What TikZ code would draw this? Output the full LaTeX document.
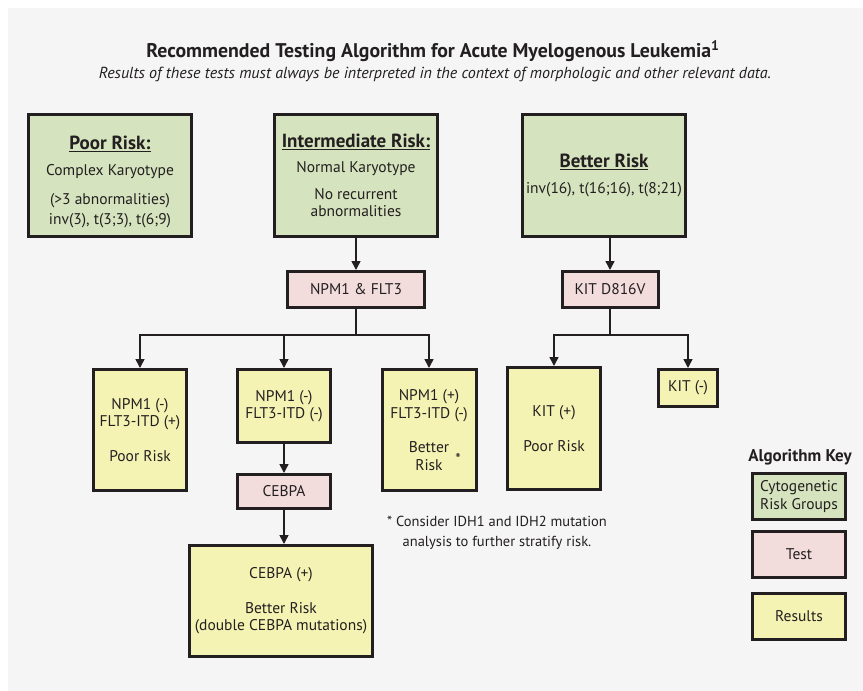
\documentclass[tikz,border=0pt]{standalone}
\usepackage{fontspec}
\setmainfont{PT Sans}
\usepackage{tikz}
\usetikzlibrary{arrows.meta}

\definecolor{bggray}{HTML}{F5F5F5}
\definecolor{riskgreen}{HTML}{D5E3BE}
\definecolor{testpink}{HTML}{F2DCDC}
\definecolor{resyellow}{HTML}{F5F3B3}
\definecolor{inkdark}{HTML}{231F20}

\newcommand{\riskhead}[1]{{\bfseries\fontsize{19}{20}\selectfont\underline{#1}}}

\tikzset{
	box/.style={draw=inkdark, line width=3pt, text=inkdark, align=center, inner sep=0pt,
		font=\fontsize{15.5}{17.5}\selectfont},
	riskbox/.style={box, fill=riskgreen},
	testbox/.style={box, fill=testpink},
	resbox/.style={box, fill=resyellow},
	arr/.style={draw=inkdark, line width=1.5pt, -{Triangle[width=9pt,length=9pt]}},
	link/.style={draw=inkdark, line width=1.5pt}
}

\begin{document}
\begin{tikzpicture}[x=1pt, y=-1pt]

\path (0,0) -- (863,691);
\fill[bggray] (8,8) rectangle (863,691);

\node[text=inkdark, font=\bfseries\fontsize{19.8}{22}\selectfont] (title) at (433,51)
	{Recommended Testing Algorithm for Acute Myelogenous Leukemia\textsuperscript{1}};
\node[text=inkdark, font=\itshape\fontsize{16}{18}\selectfont] (subtitle) at (435,74)
	{Results of these tests must always be interpreted in the context of morphologic and other relevant data.};

% cytogenetic risk groups
\node[riskbox, minimum width=163pt, minimum height=122pt] (poor) at (110,175.5)
	{\rule{0pt}{26pt}\riskhead{Poor Risk:}\\[9pt]Complex Karyotype\\[11pt](>3 abnormalities)\\[3pt]inv(3), t(3;3), t(6;9)};
\node[riskbox, minimum width=163pt, minimum height=122pt] (inter) at (356,175.5)
	{\riskhead{Intermediate Risk:}\\[8pt]Normal Karyotype\\[9pt]No recurrent\\abnormalities};
\node[riskbox, minimum width=163pt, minimum height=122pt] (better) at (604,175.5)
	{\riskhead{Better Risk}\\[9pt]inv(16), t(16;16), t(8;21)};

% tests
\node[testbox, minimum width=137pt, minimum height=36pt] (npmtest) at (356,289.5) {NPM1 \& FLT3};
\node[testbox, minimum width=96pt, minimum height=36pt] (kittest) at (610,289.5) {KIT D816V};
\node[testbox, minimum width=93pt, minimum height=34pt] (cebpatest) at (284,491.5) {CEBPA};

% results
\node[resbox, minimum width=93pt, minimum height=121pt] (res1) at (140,430)
	{NPM1 (-)\\FLT3-ITD (+)\\[17pt]Poor Risk};
\node[resbox, minimum width=93pt, minimum height=73pt] (res2) at (284,406)
	{NPM1 (-)\\FLT3-ITD (-)};
\node[resbox, minimum width=94pt, minimum height=121pt] (res3) at (429,430)
	{NPM1 (+)\\FLT3-ITD (-)\\[17pt]Better\\Risk};
\node[text=inkdark, font=\fontsize{15.5}{17.5}\selectfont] (star) at (458,459) {*};
\node[resbox, minimum width=183pt, minimum height=111pt] (cebpares) at (281,601)
	{CEBPA (+)\\[17pt]Better Risk\\(double CEBPA mutations)};
\node[resbox, minimum width=93pt, minimum height=122pt] (kitpos) at (554,428.5)
	{KIT (+)\\[17pt]Poor Risk};
\node[resbox, minimum width=59pt, minimum height=37pt] (kitneg) at (688,388) {KIT (-)};

\node[text=inkdark, align=center, font=\fontsize{14.5}{19.5}\selectfont] (note) at (497,533)
	{* Consider IDH1 and IDH2 mutation\\analysis to further stratify risk.};

% connectors
\coordinate (npmsplit) at (356,335);
\coordinate (kitsplit) at (610,335);
\draw[arr] (inter.south) -- (npmtest.north);
\draw[arr] (kittest.north |- better.south) -- (kittest.north);
\draw[link] (npmtest.south) -- (npmsplit);
\draw[arr] (npmsplit) -| (res1.north);
\draw[arr] (npmsplit) -| (res2.north);
\draw[arr] (npmsplit) -| (res3.north);
\draw[link] (kittest.south) -- (kitsplit);
\draw[arr] (kitsplit) -| (kitpos.north);
\draw[arr] (kitsplit) -| (kitneg.north);
\draw[arr] (res2.south) -- (cebpatest.north);
\draw[arr] (cebpatest.south) -- (cebpatest.south |- cebpares.north);

% key
\node[text=inkdark, font=\bfseries\fontsize{17}{19}\selectfont] (keytitle) at (800,457) {Algorithm Key};
\node[riskbox, minimum width=93pt, minimum height=46pt] (keyrisk) at (799,496.5) {Cytogenetic\\Risk Groups};
\node[testbox, minimum width=93pt, minimum height=46pt] (keytest) at (799,554.5) {Test};
\node[resbox, minimum width=93pt, minimum height=46pt] (keyres) at (799,616.5) {Results};

\end{tikzpicture}
\end{document}
